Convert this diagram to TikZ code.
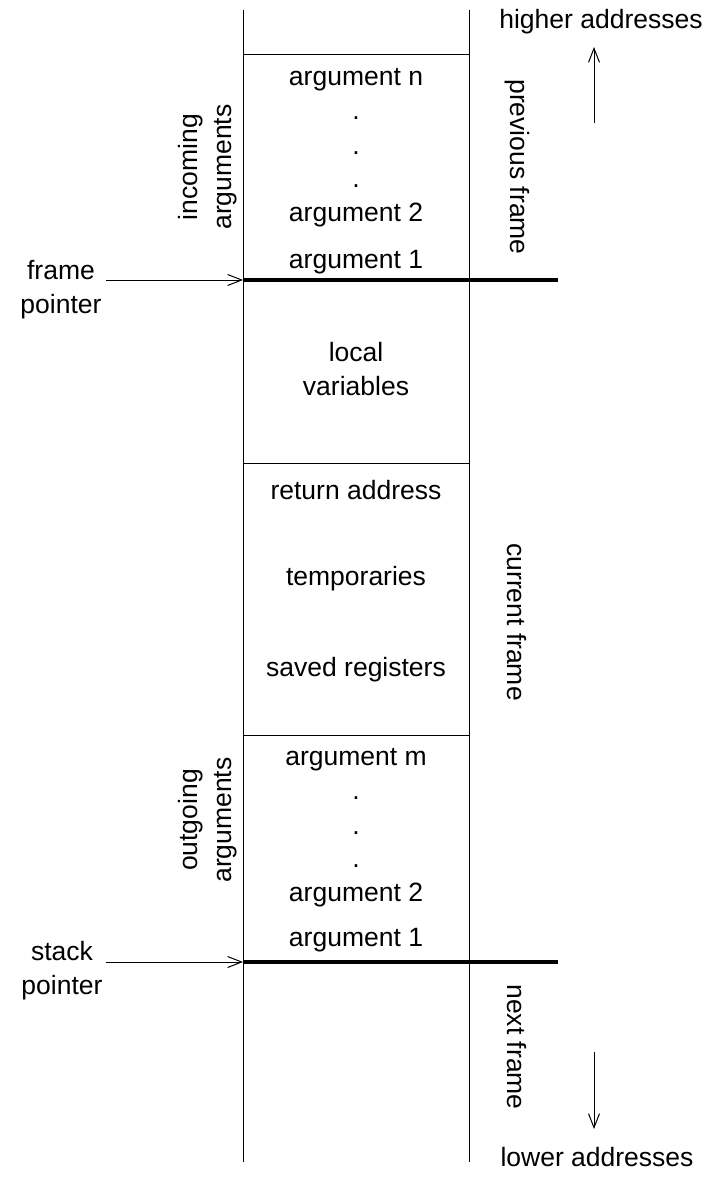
\documentclass[tikz,border=0pt]{standalone}
\usepackage{fontspec}
\setmainfont{Liberation Sans}
\usetikzlibrary{arrows.meta}
\begin{document}
\begin{tikzpicture}[x=1pt,y=-1pt,
  lbl/.style={font=\fontsize{26.5}{34}\selectfont, inner sep=0pt, align=center},
  thin/.style={line width=1pt},
  thick/.style={line width=3.8pt},
  ptr/.style={line width=1pt, -{Straight Barb[length=14pt,width=11pt]}}]
\useasboundingbox (0,0) rectangle (713,1185);
% vertical lines
\coordinate (lt) at (243,10); \coordinate (lb) at (243,1162);
\coordinate (rt) at (469,10); \coordinate (rb) at (469,1162);
\draw[thin] (lt) -- (lb);
\draw[thin] (rt) -- (rb);
% separators
\coordinate (s1l) at (243,55); \coordinate (s1r) at (469,55);
\coordinate (s2l) at (243,463); \coordinate (s2r) at (469,463);
\coordinate (s3l) at (243,735); \coordinate (s3r) at (469,735);
\draw[thin] (s1l) -- (s1r);
\draw[thin] (s2l) -- (s2r);
\draw[thin] (s3l) -- (s3r);
\coordinate (fpl) at (243,280); \coordinate (fpr) at (558,280);
\coordinate (spl) at (243,962); \coordinate (spr) at (558,962);
\draw[thick] (fpl) -- (fpr);
\draw[thick] (spl) -- (spr);
% pointers
\node[lbl] (fp) at (61,290) {frame\\pointer};
\node[lbl] (sp) at (62,971) {stack\\pointer};
\coordinate (fps) at (106,280);
\coordinate (sps) at (106,962);
\draw[ptr] (fps) -- (fpl);
\draw[ptr] (sps) -- (spl);
% box contents
\node[lbl] (an) at (356,80) {argument n};
\node[lbl] (d1) at (356,118) {.};
\node[lbl] (d2) at (356,153) {.};
\node[lbl] (d3) at (356,186) {.};
\node[lbl] (a2) at (356,215) {argument 2};
\node[lbl] (a1) at (356,262) {argument 1};
\node[lbl] (lv) at (356,369) {local\\variables};
\node[lbl] (ra) at (356,490) {return address};
\node[lbl] (tp) at (356,579) {temporaries};
\node[lbl] (sr) at (356,670) {saved registers};
\node[lbl] (am) at (356,760) {argument m};
\node[lbl] (e1) at (356,798) {.};
\node[lbl] (e2) at (356,833) {.};
\node[lbl] (e3) at (356,866) {.};
\node[lbl] (b2) at (356,895) {argument 2};
\node[lbl] (b1) at (356,940) {argument 1};
% side labels
\node[lbl, rotate=90] (inc) at (208,167) {incoming\\arguments};
\node[lbl, rotate=90] (out) at (208,820) {outgoing\\arguments};
\node[lbl, rotate=-90] (pf) at (517,167) {previous frame};
\node[lbl, rotate=-90] (cf) at (517,622) {current frame};
\node[lbl, rotate=-90] (nf) at (517,1047) {next frame};
% addresses
\node[lbl] (ha) at (601,22) {higher addresses};
\node[lbl] (la) at (597,1157) {lower addresses};
\coordinate (ua) at (594,123);
\coordinate (ue) at (594,47);
\coordinate (da) at (594,1052);
\coordinate (de) at (594,1129);
\draw[ptr] (ua) -- (ue);
\draw[ptr] (da) -- (de);
\end{tikzpicture}
\end{document}
